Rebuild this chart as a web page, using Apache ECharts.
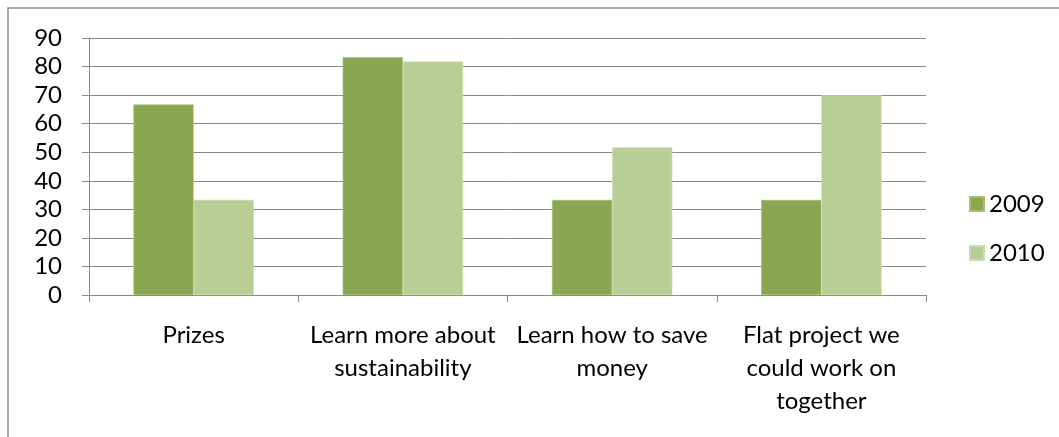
<!DOCTYPE html>
<html>
<head>
<meta charset="utf-8">
<script src="https://cdn.jsdelivr.net/npm/echarts@6/dist/echarts.min.js"></script>
<style>
  html, body { margin: 0; padding: 0; background: #ffffff; }
  #chart { width: 1059px; height: 437px; }
</style>
</head>
<body>
<div id="chart"></div>
<script>
// Reasons for taking part, share of respondents (%) by year
const categories = [
  'Prizes',
  'Learn more about\nsustainability',
  'Learn how to save\nmoney',
  'Flat project we\ncould work on\ntogether'
];
const values2009 = [66.7, 83.3, 33.3, 33.3];
const values2010 = [33.3, 81.8, 51.7, 70.0];
const seriesNames = ['2009', '2010'];

const FONT = 'Lato';
const GRID_GREY = '#8a8a8a';

const chart = echarts.init(document.getElementById('chart'), null, { renderer: 'canvas' });

chart.setOption({
  animation: false,
  backgroundColor: '#ffffff',
  textStyle: { fontFamily: FONT, color: '#000000' },
  grid: { left: 89, right: 133, top: 38, bottom: 142, containLabel: false },
  legend: {
    orient: 'vertical',
    left: 964,
    top: 187,
    itemWidth: 14,
    itemHeight: 14,
    itemGap: 25,
    icon: 'rect',
    textStyle: { fontFamily: FONT, fontSize: 24, color: '#000000' },
    data: seriesNames
  },
  xAxis: {
    type: 'category',
    data: categories,
    boundaryGap: true,
    axisLine: { show: true, lineStyle: { color: GRID_GREY, width: 1 } },
    axisTick: { show: true, length: 7, lineStyle: { color: GRID_GREY, width: 1 } },
    axisLabel: {
      interval: 0,
      margin: 24,
      fontFamily: FONT,
      fontSize: 24,
      lineHeight: 33,
      color: '#000000',
      align: 'center'
    },
    splitLine: { show: false }
  },
  yAxis: {
    type: 'value',
    min: 0,
    max: 90,
    interval: 10,
    axisLine: { show: true, lineStyle: { color: GRID_GREY, width: 1 } },
    axisTick: { show: true, length: 7, lineStyle: { color: GRID_GREY, width: 1 } },
    axisLabel: { margin: 27, fontFamily: FONT, fontSize: 24, color: '#000000' },
    splitLine: { show: true, lineStyle: { color: GRID_GREY, width: 1 } }
  },
  series: [
    {
      name: seriesNames[0],
      type: 'bar',
      data: values2009,
      barGap: '0%',
      barCategoryGap: '42.5%',
      itemStyle: { color: '#8aa650', borderColor: '#a5c070', borderWidth: 0.6 }
    },
    {
      name: seriesNames[1],
      type: 'bar',
      data: values2010,
      barGap: '0%',
      barCategoryGap: '42.5%',
      itemStyle: { color: '#b8ce95', borderColor: '#cadcae', borderWidth: 0.6 }
    }
  ],
  graphic: [
    {
      type: 'rect',
      silent: true,
      shape: { x: 8, y: 8, width: 1200, height: 600 },
      style: { fill: 'none', stroke: '#8c8c8c', lineWidth: 1.5 }
    }
  ]
});
</script>
</body>
</html>
